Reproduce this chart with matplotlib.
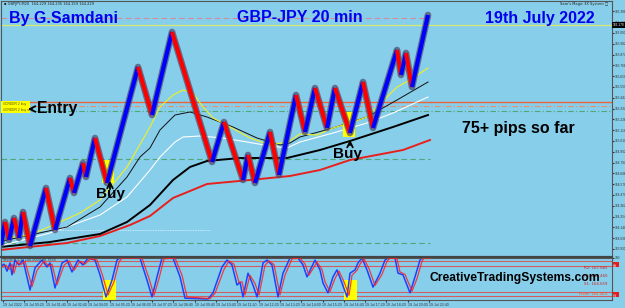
import numpy as np
import matplotlib
matplotlib.use("Agg")
from matplotlib import pyplot as plt
from matplotlib.patches import Rectangle

# === 1. Data ===

# renko zigzag turning points (time index, price)
renko_x = [1, 5, 9, 14, 19, 23, 30, 46, 55, 70, 74, 83, 86, 95, 107, 138, 152, 172, 212, 224,
           243, 248, 255, 270, 279, 296, 305, 315, 327, 335, 350, 363, 373, 397, 401, 406, 412, 428]
renko_p = [163.97, 164.20, 164.02, 164.24, 164.04, 164.30, 163.96, 164.54, 164.12, 164.64,
           164.49, 164.79, 164.65, 165.04, 164.59, 165.75, 165.27, 166.10, 164.80, 165.20,
           164.62, 164.87, 164.59, 165.10, 164.67, 165.47, 165.10, 165.54, 165.14, 165.54,
           165.09, 165.60, 165.14, 165.92, 165.67, 165.89, 165.55, 166.27]

# moving averages
ma_yellow_x = [0, 7, 30, 53, 80, 100, 127, 150, 160, 173, 183, 193, 203, 213, 230, 250, 270, 288,
               300, 317, 333, 350, 367, 377, 387, 397, 410, 428]
ma_yellow = [164.02, 164.04, 164.07, 164.17, 164.29, 164.42, 164.75, 165.15, 165.35, 165.47,
             165.52, 165.49, 165.35, 165.24, 165.15, 165.04, 164.97, 165.00, 165.08, 165.07,
             165.14, 165.19, 165.25, 165.35, 165.45, 165.55, 165.62, 165.74]
ma_black_x = [0, 7, 67, 100, 127, 140, 150, 160, 175, 190, 207, 233, 257, 280, 290, 300, 333, 367, 397, 428]
ma_black = [164.00, 164.02, 164.15, 164.35, 164.65, 164.85, 164.94, 165.12, 165.27, 165.30,
            165.25, 165.15, 165.04, 164.97, 164.99, 165.05, 165.14, 165.25, 165.42, 165.60]
ma_white_x = [0, 50, 100, 127, 150, 160, 175, 183, 200, 223, 247, 270, 287, 300, 333, 367, 393, 428]
ma_white = [163.96, 164.09, 164.27, 164.45, 164.72, 164.85, 165.00, 165.05, 165.06, 165.04,
            165.00, 164.96, 164.94, 165.00, 165.09, 165.19, 165.29, 165.45]
ma_slow_x = [0, 50, 100, 127, 150, 173, 190, 207, 240, 287, 320, 350, 393, 428]
ma_slow = [163.95, 164.00, 164.08, 164.20, 164.37, 164.62, 164.75, 164.81, 164.84, 164.84,
           164.92, 165.01, 165.15, 165.27]
ma_red_x = [0, 67, 100, 130, 150, 173, 207, 250, 290, 320, 350, 403, 430]
ma_red = [163.92, 163.99, 164.06, 164.17, 164.26, 164.44, 164.58, 164.62, 164.66, 164.72,
          164.82, 164.92, 165.02]

# stochastic %K (blue) and %D (red)
stoch_k_x = [1, 4, 7, 10, 12, 15, 19, 23, 30, 35, 42, 47, 50, 55, 62, 67, 72, 78, 83, 88,
             95, 100, 106, 112, 117, 120, 140, 147, 152, 157, 162, 173, 180, 185, 208, 213, 222, 227, 232, 237,
             240, 243, 248, 253, 257, 263, 267, 272, 278, 283, 290, 298, 303, 307, 315, 320, 323, 328, 333, 337,
             342, 347, 350, 355, 358, 362, 367, 373, 380, 385, 388, 395, 398, 403, 410, 415, 420, 422, 428]
stoch_k = [80, 85, 68, 88, 59, 95, 83, 95, 22, 76, 95, 78, 88, 27, 88, 95, 66, 95, 83, 100,
           95, 59, 5, 46, 95, 100, 100, 46, 5, 54, 100, 100, 54, 2, 0, 15, 78, 95, 83, 34,
           41, 5, 63, 34, 5, 88, 95, 83, 5, 63, 100, 100, 83, 54, 95, 71, 39, 15, 54, 71,
           39, 5, 63, 71, 88, 100, 71, 29, 63, 95, 100, 100, 63, 59, 15, 54, 95, 100, 100]
stoch_d_x = [3, 6, 9, 12, 14, 17, 21, 25, 32, 37, 44, 49, 52, 57, 64, 69, 74, 80, 85, 90,
             97, 102, 108, 114, 119, 122, 142, 149, 154, 159, 164, 175, 182, 187, 210, 215, 224, 229, 234, 239,
             242, 245, 250, 255, 259, 265, 269, 274, 280, 285, 292, 300, 305, 309, 317, 322, 325, 330, 335, 339,
             344, 349, 352, 357, 360, 364, 369, 375, 382, 387, 390, 397, 400, 405, 412, 417, 422, 424, 430]
stoch_d = [78, 83, 72, 85, 63, 90, 84, 92, 30, 70, 92, 80, 85, 35, 82, 93, 70, 92, 85, 98,
           95, 62, 10, 42, 90, 100, 100, 50, 9, 50, 98, 100, 58, 5, 1, 14, 72, 93, 85, 40,
           42, 10, 58, 38, 10, 82, 93, 84, 10, 58, 98, 100, 85, 58, 90, 72, 42, 18, 50, 68,
           42, 9, 58, 70, 85, 98, 74, 33, 60, 92, 100, 98, 66, 60, 19, 50, 92, 100, 100]
stoch_levels = [93, 80, 17, 7]

# horizontal levels on the price chart
level_prices = [166.24, 166.17, 165.40, 165.36, 165.31, 164.83, 163.99, 164.12]

# buy signals (time index, price low, price high)
buy_x = [102, 343]
buy_low = [164.59, 165.05]
buy_high = [164.82, 165.30]

date_labels = ["19 Jul 2022", "19 Jul 00:20", "19 Jul 01:40", "19 Jul 02:40", "19 Jul 04:00",
               "19 Jul 05:20", "19 Jul 06:00", "19 Jul 07:20", "19 Jul 08:40", "19 Jul 09:40",
               "19 Jul 10:40", "19 Jul 11:20", "19 Jul 12:20", "19 Jul 13:20", "19 Jul 14:00",
               "19 Jul 15:20", "19 Jul 16:40", "19 Jul 17:20", "19 Jul 18:20", "19 Jul 20:00",
               "19 Jul 22:40"]

# === 2. Figure layout ===
BG = "#87ceeb"
plt.rcParams['font.family'] = ['Liberation Sans', 'DejaVu Sans']

fig = plt.figure(figsize=(6.25, 3.08), dpi=100, facecolor=BG)
ax = fig.add_axes([1 / 625, 51 / 308, 611 / 625, 256 / 308], facecolor=BG)
sx = fig.add_axes([1 / 625, 8 / 308, 611 / 625, 42.5 / 308], facecolor=BG)

ax.set_xlim(1, 612)
ax.set_ylim(163.85, 166.41)
sx.set_xlim(1, 612)
sx.set_ylim(-2.4, 101.2)

for a in (ax, sx):
    for s in a.spines.values():
        s.set_color("#555555")
        s.set_linewidth(0.8)
ax.spines["bottom"].set_linewidth(1.6)
ax.spines["bottom"].set_color("#444444")

# === 3. Price chart ===

# horizontal levels
ax.hlines(level_prices[0], 1, 430, color="#d98a9a", lw=0.8, ls=(0, (5, 3)), zorder=1)
ax.hlines(level_prices[1], 1, 612, color="#d8e870", lw=0.9, zorder=1)
ax.hlines(level_prices[2], 1, 612, color="#e8643c", lw=1.0, zorder=1)
ax.hlines(level_prices[3], 1, 612, color="#e89070", lw=0.8, ls=(0, (5, 2, 1, 2)), zorder=1)
ax.hlines(level_prices[4], 1, 612, color="#50a878", lw=0.8, ls=(0, (5, 2, 1, 2)), zorder=1)
ax.hlines(level_prices[5], 1, 430, color="#50a878", lw=0.8, ls=(0, (5, 3)), zorder=1)
ax.hlines(level_prices[6], 1, 430, color="#50a878", lw=0.8, ls=(0, (5, 3)), zorder=1)
ax.hlines(level_prices[7], 1, 210, color="#e8f4ff", lw=0.6, ls=(0, (1, 1)), zorder=1)

# moving averages
ax.plot(ma_red_x, ma_red, color="#e8201c", lw=1.4, zorder=2)
ax.plot(ma_slow_x, ma_slow, color="#000000", lw=1.4, zorder=2)
ax.plot(ma_white_x, ma_white, color="#ffffff", lw=0.8, zorder=2)
ax.plot(ma_black_x, ma_black, color="#111111", lw=0.7, zorder=2)
ax.plot(ma_yellow_x, ma_yellow, color="#f0f020", lw=0.8, zorder=2)

# buy highlight boxes
for bx, lo, hi in zip(buy_x, buy_low, buy_high):
    ax.add_patch(Rectangle((bx, lo), 12, hi - lo, facecolor="#ffff00", edgecolor="none", zorder=2.5))

# renko legs
ax.plot(renko_x, renko_p, color="#4a4a66", lw=4.8, alpha=0.7, solid_joinstyle="round",
        solid_capstyle="round", zorder=3)
for i in range(len(renko_x) - 1):
    up = renko_p[i + 1] > renko_p[i]
    ax.plot(renko_x[i:i + 2], renko_p[i:i + 2], color="#0000ff" if up else "#ff0000",
            lw=3.0, solid_capstyle="butt", zorder=4)

# buy arrows and text
ax.annotate("", xy=(110, 164.64), xytext=(110, 164.50),
            arrowprops=dict(arrowstyle="->", color="black", lw=1.3), zorder=5)
ax.text(110.5, 164.48, "Buy", fontsize=11, fontweight="bold", ha="center", va="center", zorder=5)
ax.annotate("", xy=(350, 165.05), xytext=(350, 164.94),
            arrowprops=dict(arrowstyle="->", color="black", lw=1.3), zorder=5)
ax.text(348, 164.88, "Buy", fontsize=11, fontweight="bold", ha="center", va="center", zorder=5)

# entry label
ax.add_patch(Rectangle((1, 165.29), 29, 0.12, facecolor="#ffff00", edgecolor="none", zorder=5))
ax.text(3, 165.375, "#ORDER 2 buy", fontsize=2.4, color="#555500", va="center", zorder=6)
ax.text(3, 165.325, "#ORDER 2 buy sl", fontsize=2.4, color="#555500", va="center", zorder=6)
ax.annotate("", xy=(25, 165.33), xytext=(35, 165.33),
            arrowprops=dict(arrowstyle="->", color="black", lw=1.3), zorder=6)
ax.text(37, 165.33, "Entry", fontsize=11.3, fontweight="bold", va="center", zorder=6)

# titles
ax.text(63.5, 166.24, "By G.Samdani", fontsize=11.5, fontweight="bold", color="#0000ee",
        ha="center", va="center", zorder=6)
ax.text(300, 166.24, "GBP-JPY 20 min", fontsize=11.5, fontweight="bold", color="#0000ee",
        ha="center", va="center", zorder=6)
ax.text(539.5, 166.24, "19th July 2022", fontsize=11.5, fontweight="bold", color="#0000ee",
        ha="center", va="center", zorder=6)
ax.text(518, 165.13, "75+ pips so far", fontsize=11.5, fontweight="bold", color="black",
        ha="center", va="center", zorder=6)

# small header texts
ax.text(4, 166.38, "\u25aa GBPJPY,M20  164.229 164.235 164.159 164.229", fontsize=2.6,
        color="#222222", va="center", family="DejaVu Sans")
ax.text(608, 166.38, "Sam's Magic 3X System \u25a1", fontsize=2.6, color="#222222",
        ha="right", va="center", family="DejaVu Sans")

# right price axis
ax.set_xticks([])
ax.yaxis.tick_right()
price_ticks = np.arange(163.93, 166.40, 0.108)
ax.set_yticks(price_ticks)
ax.set_yticklabels(["%.3f" % p for p in price_ticks])
ax.tick_params(axis="y", labelsize=2.3, length=1.2, pad=0.6, colors="#333333")
ax.text(612.5, level_prices[1], "%.3f" % level_prices[1], fontsize=2.3, color="white",
        va="center", ha="left", clip_on=False, zorder=7,
        bbox=dict(facecolor="black", edgecolor="none", pad=0.5))

# === 4. Stochastic panel ===
for lv in stoch_levels:
    sx.axhline(lv, color="#d06060", lw=0.8, zorder=1)
for bx in buy_x:
    sx.add_patch(Rectangle((bx + 1, -2.4), 13, 48, facecolor="#ffff00", edgecolor="none", zorder=1.5))
sx.plot(stoch_k_x, stoch_k, color="#2040ff", lw=1.1, zorder=2)
sx.plot(stoch_d_x, stoch_d, color="#ff2020", lw=0.9, alpha=0.85, zorder=3)

sx.text(3, 95, "Stoch(8,3,3) 100.0000 98.7654", fontsize=2.4, color="#333333", va="center",
        family="DejaVu Sans")
sx.text(515, 51, "CreativeTradingSystems.com", fontsize=8.7, fontweight="bold",
        ha="center", va="center", zorder=5)
for yv, txt, col in [(75, "R2: 167.665", "#cc2020"), (56, "R1: 166.460", "#cc2020"),
                     (36, "S1: 164.659", "#cc2020"), (12, "Pivot: 165.464", "#ff5010")]:
    sx.text(607, yv, txt, fontsize=2.8, color=col, ha="right", va="center", zorder=4,
            family="DejaVu Sans")

sx.yaxis.tick_right()
sx.set_yticks([100])
sx.set_yticklabels(["100"])
sx.tick_params(axis="y", labelsize=2.3, length=1.2, pad=0.6, colors="#333333")
for yv, txt in [(85, "80"), (12, "20")]:
    sx.text(614, yv, txt, fontsize=2.3, color="white", rotation=90, ha="left", va="center",
            clip_on=False, bbox=dict(facecolor="#e02020", edgecolor="none", pad=0.6))

date_pos = [3 + 21.3 * k for k in range(len(date_labels))]
sx.set_xticks(date_pos)
sx.set_xticklabels(date_labels, ha="left")
sx.tick_params(axis="x", labelsize=2.6, length=1.5, pad=1, colors="#333333")

fig.savefig("out.png", dpi=100, facecolor=BG)
